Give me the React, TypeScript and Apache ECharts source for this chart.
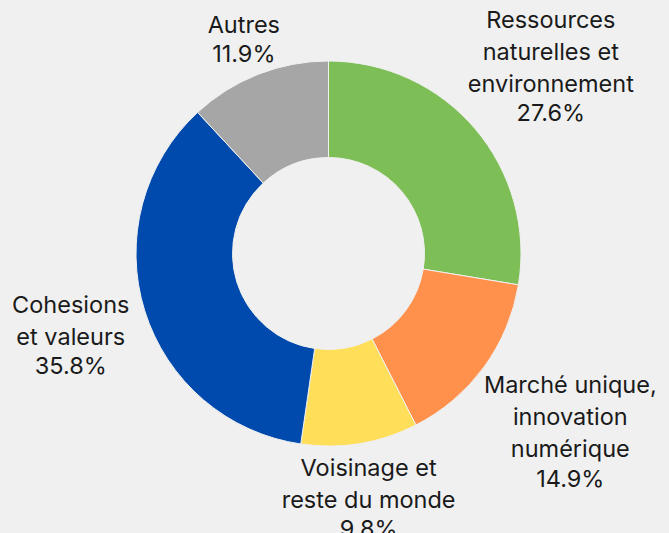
import React, { useEffect, useRef } from "react";
import * as echarts from "echarts";

const categories = [
  "Ressources\nnaturelles et\nenvironnement",
  "Marché unique,\ninnovation\nnumérique",
  "Voisinage et\nreste du monde",
  "Cohesions\net valeurs",
  "Autres",
];
const values = [27.6, 14.9, 9.8, 35.8, 11.9];
const colors = ["#7DBE56", "#FF914D", "#FFDE59", "#004AAD", "#A6A6A6"];

const CX = 328.5;
const CY = 253.5;
const R_OUT = 192.5;
const R_IN = 96;
const GAP = 16;
const FONT = 23.5;

export default function App() {
  const ref = useRef<HTMLDivElement>(null);
  useEffect(() => {
    if (!ref.current) return;
    const chart = echarts.init(ref.current, undefined, { renderer: "svg" });
    const total = values.reduce((a, b) => a + b, 0);
    const cum: number[] = [];
    let acc = 0;
    values.forEach((v) => {
      cum.push(acc);
      acc += v;
    });
    chart.setOption({
      animation: false,
      backgroundColor: "#F0F0F0",
      series: [
        {
          type: "pie",
          center: [CX, CY],
          radius: [R_IN, R_OUT],
          startAngle: 90,
          clockwise: true,
          avoidLabelOverlap: false,
          itemStyle: { borderColor: "#F0F0F0", borderWidth: 1 },
          label: {
            show: true,
            position: "outside",
            formatter: (p: any) => `{n|${categories[p.dataIndex]}}\n{p|${values[p.dataIndex].toFixed(1)}%}`,
            rich: {
              n: { fontFamily: "Inter", fontSize: FONT, lineHeight: 32, color: "#1a1a1a", align: "center" },
              p: { fontFamily: "Inter", fontSize: FONT, lineHeight: 27, color: "#1a1a1a", align: "center" },
            },
          },
          labelLine: { show: false },
          labelLayout: (params: any) => {
            const i = params.dataIndex;
            const mid = ((cum[i] + values[i] / 2) / total) * Math.PI * 2;
            const ux = Math.sin(mid);
            const uy = -Math.cos(mid);
            const w = params.labelRect.width;
            const h = params.labelRect.height - 10;
            const ex = Math.abs(ux) > 1e-6 ? w / 2 / Math.abs(ux) : Infinity;
            const ey = Math.abs(uy) > 1e-6 ? h / 2 / Math.abs(uy) : Infinity;
            const d = R_OUT + GAP + Math.min(ex, ey);
            return { x: CX + d * ux, y: CY + d * uy, align: "center", verticalAlign: "middle" };
          },
          data: values.map((v, i) => ({
            value: v,
            name: categories[i],
            itemStyle: { color: colors[i] },
          })),
        },
      ],
    });
    return () => chart.dispose();
  }, []);
  return (
    <div
      ref={ref}
      style={{ position: "absolute", left: 0, top: 0, width: 669, height: 533 }}
    />
  );
}
